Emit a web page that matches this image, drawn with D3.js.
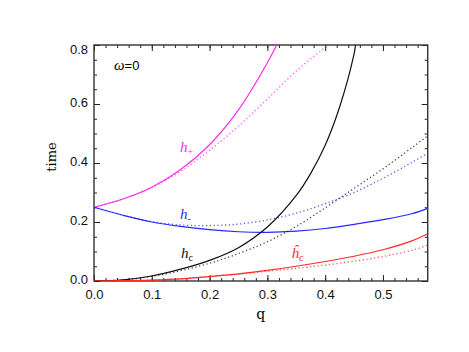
<!DOCTYPE html>
<html>
<head>
<meta charset="utf-8">
<script src="https://cdn.jsdelivr.net/npm/d3@7"></script>
<style>
  body { margin: 0; background: #fff; }
  svg { display: block; }
</style>
</head>
<body>
<div id="plot"></div>
<script>
// values
var qs = [0, 0.05, 0.1, 0.15, 0.2, 0.25, 0.3, 0.35, 0.4, 0.45, 0.5, 0.55, 0.5774];

var hPlusQ     = [0, 0.05, 0.1, 0.15, 0.2, 0.25, 0.3, 0.316];
var hPlus      = [0.25, 0.278, 0.318, 0.378, 0.462, 0.580, 0.740, 0.80];
var hPlusDotQ  = [0, 0.05, 0.1, 0.15, 0.2, 0.25, 0.3, 0.35, 0.405];
var hPlusDot   = [0.25, 0.278, 0.317, 0.372, 0.443, 0.525, 0.617, 0.712, 0.80];

var hMinus     = [0.25, 0.223, 0.200, 0.185, 0.174, 0.167, 0.165, 0.169, 0.178, 0.192, 0.208, 0.228, 0.246];
var hMinusDot  = [0.25, 0.223, 0.201, 0.190, 0.188, 0.193, 0.207, 0.230, 0.262, 0.300, 0.348, 0.402, 0.433];

var hCQ        = [0, 0.05, 0.1, 0.15, 0.2, 0.25, 0.3, 0.35, 0.375, 0.4, 0.425, 0.45, 0.4525];
var hC         = [0, 0.004, 0.017, 0.040, 0.070, 0.113, 0.183, 0.290, 0.365, 0.460, 0.590, 0.770, 0.80];
var hCDot      = [0, 0.004, 0.016, 0.035, 0.060, 0.093, 0.133, 0.185, 0.248, 0.314, 0.380, 0.452, 0.492];

var hHat       = [0, 0.001, 0.003, 0.007, 0.015, 0.024, 0.036, 0.050, 0.066, 0.084, 0.106, 0.136, 0.160];
var hHatDot    = [0, 0.001, 0.003, 0.007, 0.015, 0.023, 0.033, 0.043, 0.054, 0.067, 0.083, 0.104, 0.122];

var xTicks = [0, 0.1, 0.2, 0.3, 0.4, 0.5];
var yTicks = [0, 0.2, 0.4, 0.6, 0.8];

var W = 469, H = 352;
var pLeft = 94, pRight = 427.7, pTop = 45, pBottom = 281;

var svg = d3.select("#plot").append("svg")
  .attr("width", W).attr("height", H);

var x = d3.scaleLinear().domain([0, 0.5774]).range([pLeft, pRight]);
var y = d3.scaleLinear().domain([0, 0.8]).range([pBottom, pTop]);

var xMinor = d3.range(0, 0.5774, 0.02);
var yMinor = d3.range(0, 0.8001, 0.05);

function axisGroup(axis, tx, ty) {
  var g = svg.append("g")
    .attr("transform", "translate(" + tx + "," + ty + ")")
    .call(axis);
  g.select(".domain").remove();
  g.selectAll("line").attr("stroke", "#222");
  g.selectAll("text")
    .style("font-family", "'Liberation Sans', Arial, sans-serif")
    .style("font-size", "13px")
    .attr("fill", "#111");
  return g;
}

// major ticks, pointing inward, on all four sides
axisGroup(d3.axisBottom(x).tickValues(xTicks).tickSize(-6).tickPadding(9).tickFormat(d3.format(".1f")), 0, pBottom);
axisGroup(d3.axisTop(x).tickValues(xTicks).tickSize(-6).tickFormat(""), 0, pTop);
var yAx = axisGroup(d3.axisLeft(y).tickValues(yTicks).tickSize(-6).tickPadding(6).tickFormat(d3.format(".1f")), pLeft, 0);
axisGroup(d3.axisRight(y).tickValues(yTicks).tickSize(-6).tickFormat(""), pRight, 0);
// minor ticks
axisGroup(d3.axisBottom(x).tickValues(xMinor).tickSize(-3).tickFormat(""), 0, pBottom);
axisGroup(d3.axisTop(x).tickValues(xMinor).tickSize(-3).tickFormat(""), 0, pTop);
axisGroup(d3.axisLeft(y).tickValues(yMinor).tickSize(-3).tickFormat(""), pLeft, 0);
axisGroup(d3.axisRight(y).tickValues(yMinor).tickSize(-3).tickFormat(""), pRight, 0);

// the top label sits a little below its tick, as in the picture
yAx.selectAll(".tick text").attr("dy", function(d) { return d === 0.8 ? "0.62em" : "0.2em"; });

svg.append("rect")
  .attr("x", pLeft).attr("y", pTop)
  .attr("width", pRight - pLeft).attr("height", pBottom - pTop)
  .attr("fill", "none").attr("stroke", "#333").attr("stroke-width", 1.4);

svg.append("clipPath").attr("id", "clip")
  .append("rect").attr("x", pLeft).attr("y", pTop)
  .attr("width", pRight - pLeft).attr("height", pBottom - pTop);

var line = d3.line()
  .x(function(d) { return x(d[0]); })
  .y(function(d) { return y(d[1]); })
  .curve(d3.curveCatmullRom.alpha(0.5));

function curve(qv, tv, color, dotted) {
  var pts = tv.map(function(t, i) { return [qv[i], t]; });
  svg.append("path")
    .attr("clip-path", "url(#clip)")
    .attr("d", line(pts))
    .attr("fill", "none")
    .attr("stroke", color)
    .attr("stroke-width", dotted ? 1.3 : 1.2)
    .attr("stroke-dasharray", dotted ? "1.2,2.6" : null)
    .attr("opacity", dotted ? 0.8 : 1);
}

var magenta = "#ff2ee6", blue = "#2828ff", red = "#ff2a2a", black = "#111";

curve(hPlusDotQ, hPlusDot, magenta, true);
curve(hPlusQ, hPlus, magenta, false);
curve(qs, hMinusDot, blue, true);
curve(qs, hMinus, blue, false);
curve(qs, hCDot, black, true);
curve(hCQ, hC, black, false);
curve(qs, hHatDot, red, true);
curve(qs, hHat, red, false);

// axis titles
svg.append("text")
  .attr("x", (pLeft + pRight) / 2).attr("y", 319)
  .attr("text-anchor", "middle")
  .style("font-family", "'DejaVu Serif', serif").style("font-size", "14px")
  .text("q");

svg.append("text")
  .attr("transform", "translate(56," + ((pTop + pBottom) / 2 - 6) + ") rotate(-90)")
  .attr("text-anchor", "middle")
  .style("font-family", "'DejaVu Serif', serif").style("font-size", "13px")
  .text("time");

// annotation
var om = svg.append("text")
  .attr("x", 114).attr("y", 70)
  .style("font-family", "'Liberation Sans', Arial, sans-serif").style("font-size", "13px");
om.append("tspan").style("font-style", "italic").style("font-family", "'Liberation Serif', serif").style("font-size", "15px").text("ω");
om.append("tspan").text("=0");

function hLabel(px, py, h, sub, color) {
  var t = svg.append("text")
    .attr("x", px).attr("y", py)
    .attr("fill", color)
    .style("font-family", "'Liberation Serif', serif");
  t.append("tspan").style("font-style", "italic").style("font-size", "15px").text(h);
  t.append("tspan").attr("dy", 3).style("font-size", "10px").text(sub);
}

hLabel(180, 152, "h", "+", magenta);
hLabel(180, 219, "h", "-", blue);
hLabel(181, 257.5, "h", "c", black);
hLabel(291.5, 258, "\u0125", "c", red);
</script>
</body>
</html>
